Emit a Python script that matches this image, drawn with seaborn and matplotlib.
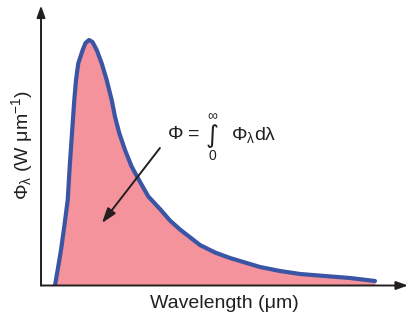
import numpy as np
import pandas as pd
import matplotlib
matplotlib.use("Agg")
import matplotlib.pyplot as plt
import seaborn as sns

# curve (arbitrary units, axes run 0..100)
wavelength = [3.81, 4.63, 5.45, 6.40, 7.28, 7.82, 8.45, 9.07, 9.54, 10.16, 11.36,
              12.13, 13.08, 14.03, 15.18, 16.54, 17.90, 19.26, 20.16, 21.34,
              22.89, 24.71, 26.98, 29.24, 32.43, 35.15, 37.87, 43.32, 47.41,
              51.50, 59.67, 65.12, 70.57, 77.38, 84.20, 91.01]
flux = [0.0, 6.25, 12.68, 21.61, 30.54, 42.43, 54.46, 66.25, 73.39, 79.36, 84.11,
        86.61, 87.68, 86.96, 84.11, 79.36, 73.39, 66.25, 60.29, 54.36,
        48.39, 42.43, 37.0, 31.8, 27.3, 23.2, 20.0, 14.46, 11.79,
        9.82, 6.61, 5.18, 4.11, 3.39, 2.68, 1.61]

df = pd.DataFrame({"wavelength": wavelength, "flux": flux})

sns.set_style("white")
plt.rcParams["font.family"] = ["Liberation Sans", "DejaVu Sans"]
plt.rcParams["mathtext.fontset"] = "custom"
plt.rcParams["mathtext.rm"] = "Liberation Sans"
plt.rcParams["mathtext.it"] = "Liberation Sans"
plt.rcParams["mathtext.sf"] = "Liberation Sans"

ink = "#231f20"
fig = plt.figure(figsize=(4.10, 3.23), dpi=100)
ax = fig.add_axes([41 / 410, 37.5 / 323, 367 / 410, 280 / 323])

ax.fill_between(df["wavelength"], df["flux"], 0, color="#f4939b", linewidth=0)
sns.lineplot(data=df, x="wavelength", y="flux", ax=ax, color="#3a55a4",
             linewidth=3, sort=False)
ax.lines[-1].set_solid_joinstyle("round")

ax.set_xlim(0, 100)
ax.set_ylim(0, 100)
ax.set_xticks([])
ax.set_yticks([])
for s in ax.spines.values():
    s.set_visible(False)

# axes with arrow heads
ax.annotate("", xy=(1, 0), xytext=(0, 0), xycoords="axes fraction",
            arrowprops=dict(arrowstyle="-|>,head_length=0.7,head_width=0.25",
                            color=ink, lw=1.4, shrinkA=0, shrinkB=0))
ax.annotate("", xy=(0, 1), xytext=(0, 0), xycoords="axes fraction",
            arrowprops=dict(arrowstyle="-|>,head_length=0.7,head_width=0.25",
                            color=ink, lw=1.4, shrinkA=0, shrinkB=0))

ax.set_xlabel("Wavelength (μm)", fontsize=14, color=ink, labelpad=7)
ax.set_ylabel(r"$\Phi_\lambda$ (W μm$^{-1}$)", fontsize=14, color=ink, labelpad=4)

# integral annotation
ax.text(34.3, 53.75, r"$\Phi$ =", fontsize=14, color=ink, ha="left", va="center")
ax.text(46.6, 53.4, "∫", fontsize=18, color=ink, ha="center", va="center",
        family="DejaVu Sans")
ax.text(46.6, 60.4, "∞", fontsize=10, color=ink, ha="center", va="center")
ax.text(46.6, 46.4, "0", fontsize=10, color=ink, ha="center", va="center")
ax.text(51.7, 53.75, r"$\Phi_\lambda$d$\lambda$", fontsize=14, color=ink,
        ha="left", va="center")

ax.annotate("", xy=(16.6, 22.3), xytext=(32.4, 49.1),
            arrowprops=dict(arrowstyle="-|>,head_length=0.9,head_width=0.3",
                            color=ink, lw=1.4, shrinkA=0, shrinkB=0))

fig.savefig("out.png", dpi=100)
